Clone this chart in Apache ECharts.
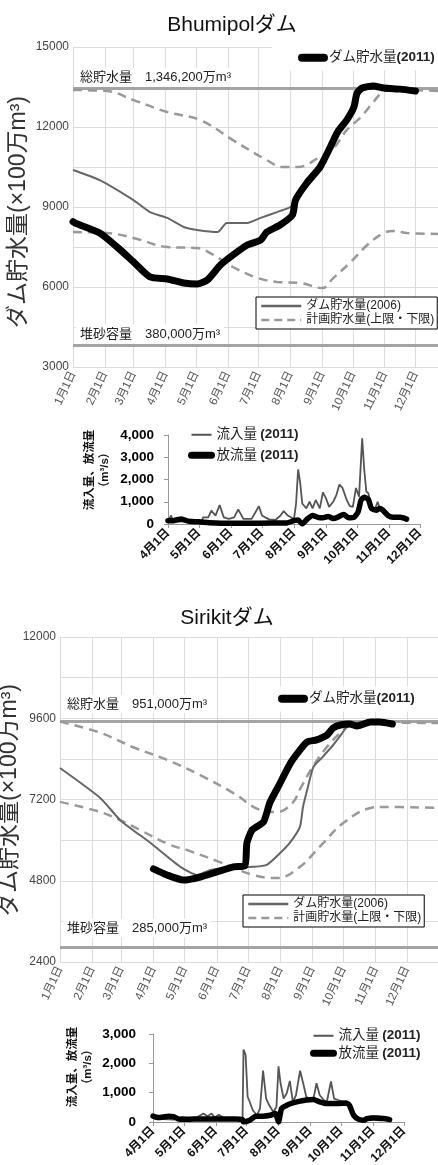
<!DOCTYPE html>
<html>
<head>
<meta charset="utf-8">
<script src="https://cdn.jsdelivr.net/npm/echarts@6/dist/echarts.min.js"></script>
<style>
html, body { margin: 0; padding: 0; background: #fff; }
#chart { width: 438px; height: 1165px; }
</style>
</head>
<body>
<div id="chart"></div>
<script>
// storage values in 100万m3, x = day of year (0 = 1月1日)
var bhu2011 = [[0,8450],[2,8400],[26,8025],[43,7500],[59,6940],[75,6380],[92,6300],[108,6150],[121,6110],[131,6260],[144,6830],[156,7200],[170,7575],[183,7760],[189,8060],[202,8325],[214,8700],[217,9260],[228,9900],[241,10500],[251,11250],[258,11810],[267,12260],[274,12750],[277,13270],[282,13460],[293,13540],[303,13460],[319,13420],[334,13350]];
var bhu2006 = [[0,10390],[26,10010],[59,9260],[75,8810],[92,8590],[108,8250],[121,8140],[141,8060],[150,8400],[170,8400],[183,8590],[199,8810],[212,9000],[220,9400],[235,10100],[245,10700],[255,11500],[265,12200],[275,12900],[283,13400],[300,13450],[334,13400]];
var bhuUpper = [[0,13390],[33,13350],[59,13010],[92,12560],[124,12260],[156,11510],[189,10760],[205,10500],[219,10500],[241,10880],[254,11200],[267,11890],[280,12340],[293,12940],[302,13310],[310,13400],[356,13350]];
var bhuLower = [[0,8060],[33,8025],[59,7840],[92,7500],[121,7460],[137,7200],[156,6750],[180,6340],[199,6190],[222,6150],[243,5960],[254,6340],[271,6940],[287,7575],[303,8025],[313,8100],[326,8025],[356,7990]];
var bhuTotal = 13462, bhuSediment = 3800;

var siri2011 = [[90,5150],[103,4970],[119,4820],[135,4910],[151,5060],[167,5210],[178,5240],[180,5920],[185,6300],[196,6540],[202,7100],[210,7570],[222,8280],[231,8660],[238,8900],[247,8960],[257,9100],[263,9310],[270,9400],[279,9430],[286,9370],[299,9490],[308,9490],[320,9430]];
var siri2006 = [[0,8130],[39,7240],[58,6590],[87,5920],[116,5210],[132,4970],[145,5120],[167,5180],[186,5210],[199,5270],[212,5620],[222,5950],[231,6390],[234,6980],[238,7480],[244,8160],[253,8460],[263,8810],[272,9170],[276,9340],[290,9480],[320,9480]];
var siriUpper = [[0,9500],[39,9170],[70,8750],[103,8370],[135,7920],[167,7390],[193,6890],[209,6830],[224,7100],[231,7500],[244,8200],[257,8750],[270,9170],[279,9380],[289,9470],[364,9460]];
var siriLower = [[0,7130],[39,6830],[58,6590],[77,6300],[106,5860],[122,5710],[154,5350],[186,4970],[209,4880],[231,5210],[250,5800],[273,6510],[299,6950],[311,6980],[364,6950]];
var siriTotal = 9510, siriSediment = 2850;

// flows in m3/s, x = days since 4月1日
var bhuInflow = [[0,150],[3,380],[5,150],[10,120],[20,100],[33,150],[34,300],[39,300],[42,600],[46,380],[50,850],[54,300],[59,230],[64,300],[68,650],[73,230],[81,230],[88,800],[91,380],[94,300],[98,210],[104,180],[109,380],[112,580],[116,380],[119,300],[122,230],[124,920],[126,2450],[128,1850],[130,920],[134,700],[137,1000],[140,700],[143,1080],[147,700],[150,1420],[153,1150],[156,770],[160,1000],[163,1300],[166,1770],[169,1620],[173,1080],[176,800],[179,770],[182,1620],[185,1230],[188,3850],[190,2450],[192,1460],[194,1380],[197,800],[200,620],[203,1000],[205,700],[212,450],[218,350],[225,350],[231,250]];
var bhuOutflow = [[0,150],[5,150],[13,230],[20,120],[30,100],[40,60],[60,30],[80,30],[100,40],[115,50],[122,150],[126,180],[130,0],[135,230],[140,380],[145,300],[150,280],[155,340],[160,250],[164,300],[170,430],[175,280],[180,300],[184,540],[187,1080],[190,1200],[194,1100],[197,700],[202,620],[205,700],[208,620],[213,380],[218,300],[225,300],[231,220]];
var siriInflow = [[0,150],[10,100],[20,80],[28,170],[40,100],[49,290],[53,200],[57,290],[60,150],[64,250],[70,120],[80,100],[85,80],[87,60],[88,2470],[90,2300],[92,860],[94,690],[97,400],[101,230],[104,460],[107,1750],[110,800],[113,570],[117,340],[120,520],[122,1900],[124,1320],[127,800],[130,980],[133,1400],[136,690],[139,920],[143,1750],[146,1320],[149,860],[153,750],[156,800],[159,1320],[162,920],[166,750],[169,690],[173,1380],[176,800],[180,750],[185,690],[188,630],[192,450],[195,300],[200,150],[205,100],[210,180],[218,200],[225,180],[230,150]];
var siriOutflow = [[0,200],[5,150],[10,170],[15,200],[20,180],[25,100],[30,90],[40,100],[60,100],[80,100],[87,80],[88,0],[94,60],[100,200],[107,200],[114,230],[119,290],[122,0],[125,460],[130,570],[136,650],[143,710],[149,750],[156,770],[162,690],[169,630],[179,630],[188,650],[191,570],[195,230],[200,90],[205,60],[208,115],[214,140],[224,115],[230,80]];

var FONT = '"Liberation Sans", "Noto Sans CJK JP", sans-serif';

function dayLabels(m, d, count) {
  var out = [];
  for (var i = 0; i < count; i++) {
    var dt = new Date(Date.UTC(2011, m - 1, d + i));
    out.push((dt.getUTCMonth() + 1) + '月' + dt.getUTCDate() + '日');
  }
  return out;
}
function isMonthStart(idx, val) { return /月1日$/.test(val); }

var bhuDates = dayLabels(1, 1, 357);
var siriDates = dayLabels(1, 1, 365);
var flowDates = dayLabels(4, 1, 245);

function mainX(grid, dates) {
  return {
    gridIndex: grid, type: 'category', data: dates, boundaryGap: false,
    axisLine: { show: false }, axisTick: { show: false },
    axisLabel: { interval: isMonthStart, rotate: 65, fontSize: 11.5, color: '#555', margin: 5 },
    splitLine: { show: true, interval: isMonthStart, lineStyle: { color: '#dcdcdc' } }
  };
}
function mainY(grid, min, max, step) {
  return {
    gridIndex: grid, type: 'value', min: min, max: max, interval: step / 2,
    axisLine: { show: false }, axisTick: { show: false },
    axisLabel: { fontSize: 12, color: '#444', margin: 4,
      formatter: function (v) { return (v % step === 0) ? String(v) : ''; } },
    splitLine: { show: true, lineStyle: { color: '#dcdcdc' } }
  };
}
function flowX(grid) {
  return {
    gridIndex: grid, type: 'category', data: flowDates, boundaryGap: false,
    axisLine: { show: true, lineStyle: { color: '#999' } },
    axisTick: { show: true, interval: isMonthStart, length: 4, lineStyle: { color: '#999' } },
    axisLabel: { interval: isMonthStart, rotate: 45, fontSize: 12, fontWeight: 'bold', color: '#111', margin: 7 },
    splitLine: { show: false }
  };
}
function flowY(grid, max, gap) {
  return {
    gridIndex: grid, type: 'value', min: 0, max: max, interval: 1000,
    axisLine: { show: true, lineStyle: { color: '#999' } },
    axisTick: { show: true, length: 4, lineStyle: { color: '#999' } },
    axisLabel: { fontSize: 13.5, fontWeight: 'bold', color: '#000', margin: gap,
      formatter: function (v) { return v.toLocaleString('en-US'); } },
    splitLine: { show: false }
  };
}

function storageSeries(ax, s2011, s2006, upper, lower, total, sediment) {
  var dash = [9, 6];
  return [
    { name: '計画貯水量(上限・下限)', type: 'line', xAxisIndex: ax, yAxisIndex: ax, data: upper,
      symbol: 'none', smooth: 0.4, z: 2, itemStyle: { color: '#999' },
      lineStyle: { color: '#999', width: 2.5, type: dash } },
    { name: '計画貯水量(上限・下限)', type: 'line', xAxisIndex: ax, yAxisIndex: ax, data: lower,
      symbol: 'none', smooth: 0.4, z: 2, itemStyle: { color: '#999' },
      lineStyle: { color: '#999', width: 2.5, type: dash } },
    { name: 'ダム貯水量(2006)', type: 'line', xAxisIndex: ax, yAxisIndex: ax, data: s2006,
      symbol: 'none', smooth: 0.2, z: 3, itemStyle: { color: '#666' }, lineStyle: { color: '#666', width: 2 },
      markLine: { silent: true, symbol: 'none', z: 1, label: { show: false },
        lineStyle: { color: '#a3a3a3', width: 3, type: 'solid' },
        data: [{ yAxis: total }, { yAxis: sediment }] } },
    { name: 'ダム貯水量(2011)', type: 'line', xAxisIndex: ax, yAxisIndex: ax, data: s2011,
      symbol: 'none', smooth: 0.2, z: 4, itemStyle: { color: '#000' },
      lineStyle: { color: '#000', width: 7, cap: 'round', join: 'round' } }
  ];
}
function flowSeries(ax, inflow, outflow) {
  return [
    { name: '流入量 (2011)', type: 'line', xAxisIndex: ax, yAxisIndex: ax, data: inflow,
      symbol: 'none', z: 2, itemStyle: { color: '#555' }, lineStyle: { color: '#555', width: 1.8 } },
    { name: '放流量 (2011)', type: 'line', xAxisIndex: ax, yAxisIndex: ax, data: outflow,
      symbol: 'none', smooth: 0.2, z: 3, itemStyle: { color: '#000' },
      lineStyle: { color: '#000', width: 5.5, cap: 'round', join: 'round' } }
  ];
}

function richName(name) {
  var i = name.indexOf('(');
  return '{n|' + name.slice(0, i) + '}{b|' + name.slice(i) + '}';
}
var richStyle = {
  n: { fontSize: 13.5, color: '#222', fontFamily: FONT },
  b: { fontSize: 13.5, color: '#222', fontWeight: 'bold', fontFamily: FONT }
};
var noSymbol = { opacity: 0 };
function legend2011(left, top) {
  return {
    left: left, top: top, padding: [6, 4, 6, 26], backgroundColor: '#fff',
    itemWidth: 22, itemHeight: 12, selectedMode: false, itemStyle: noSymbol,
    formatter: richName, textStyle: { rich: richStyle },
    data: [{ name: 'ダム貯水量(2011)', lineStyle: { width: 8, color: '#000', cap: 'round' } }]
  };
}
function legendBox(left, top) {
  return {
    left: left, top: top, orient: 'vertical', padding: [3, 3, 3, 4], itemGap: 2,
    borderColor: '#000', borderWidth: 1, backgroundColor: '#fff',
    itemWidth: 40, itemHeight: 14, selectedMode: false, itemStyle: noSymbol,
    textStyle: { fontSize: 12, color: '#222', fontFamily: FONT },
    data: [
      { name: 'ダム貯水量(2006)', lineStyle: { width: 2.5, color: '#666' } },
      { name: '計画貯水量(上限・下限)', lineStyle: { width: 2.5, color: '#999', type: [8, 5] } }
    ]
  };
}
function legendFlow(left, top, gap) {
  return {
    left: left, top: top, orient: 'vertical', itemGap: gap, padding: 0,
    itemWidth: 20, itemHeight: 14, selectedMode: false, itemStyle: noSymbol,
    formatter: function (name) { var p = name.split(' '); return '{n|' + p[0] + '} {b|' + p[1] + '}'; },
    textStyle: { rich: richStyle },
    data: [
      { name: '流入量 (2011)', lineStyle: { width: 2, color: '#555' } },
      { name: '放流量 (2011)', lineStyle: { width: 7, color: '#000', cap: 'round' } }
    ]
  };
}

function gtext(x, y, text, style, rot) {
  return {
    type: 'text', x: x, y: y, z: 20, rotation: rot || 0,
    style: Object.assign({
      text: text, fontFamily: FONT, fontSize: 13, fill: '#222',
      align: 'left', verticalAlign: 'middle', textAlign: 'left', textVerticalAlign: 'middle'
    }, style)
  };
}
var center = { align: 'center', textAlign: 'center' };
var labelBg = { backgroundColor: '#fff', padding: [3, 4] };

var option = {
  animation: false,
  textStyle: { fontFamily: FONT },
  grid: [
    { left: 73, top: 47, width: 365, height: 320, outerBoundsMode: 'none' },
    { left: 168, top: 435, width: 252, height: 89, outerBoundsMode: 'none' },
    { left: 60, top: 637, width: 378, height: 325, outerBoundsMode: 'none' },
    { left: 153, top: 1034, width: 251, height: 88, outerBoundsMode: 'none' }
  ],
  xAxis: [mainX(0, bhuDates), flowX(1), mainX(2, siriDates), flowX(3)],
  yAxis: [mainY(0, 3000, 15000, 3000), flowY(1, 4000, 14), mainY(2, 2400, 12000, 2400), flowY(3, 3000, 17)],
  legend: [
    legend2011(272, 45), legendBox(256, 297), legendFlow(188, 428, 7),
    legend2011(252, 686), legendBox(243, 895), legendFlow(310, 1029, 4)
  ],
  graphic: [
    gtext(232, 25, 'Bhumipolダム', Object.assign({ fontSize: 21, fill: '#111' }, center)),
    gtext(19, 212, 'ダム貯水量(×100万m³)', Object.assign({ fontSize: 23, fill: '#333' }, center), Math.PI / 2),
    gtext(76, 77, '総貯水量\u30001,346,200万m³', labelBg),
    gtext(76, 334, '堆砂容量\u3000380,000万m³', labelBg),
    gtext(97, 470, '流入量、放流量\n（m³/s）', Object.assign({ fontSize: 11.5, fontWeight: 'bold', fill: '#111', lineHeight: 15 }, center), Math.PI / 2),
    gtext(227, 618, 'Sirikitダム', Object.assign({ fontSize: 21, fill: '#111' }, center)),
    gtext(10, 800, 'ダム貯水量(×100万m³)', Object.assign({ fontSize: 23, fill: '#333' }, center), Math.PI / 2),
    gtext(63, 704, '総貯水量\u3000951,000万m³', labelBg),
    gtext(63, 928, '堆砂容量\u3000285,000万m³', labelBg),
    gtext(80, 1067, '流入量、放流量\n（m³/s）', Object.assign({ fontSize: 11.5, fontWeight: 'bold', fill: '#111', lineHeight: 15 }, center), Math.PI / 2)
  ],
  series: [].concat(
    storageSeries(0, bhu2011, bhu2006, bhuUpper, bhuLower, bhuTotal, bhuSediment),
    flowSeries(1, bhuInflow, bhuOutflow),
    storageSeries(2, siri2011, siri2006, siriUpper, siriLower, siriTotal, siriSediment),
    flowSeries(3, siriInflow, siriOutflow)
  )
};

var myChart = echarts.init(document.getElementById('chart'));
myChart.setOption(option);
</script>
</body>
</html>
